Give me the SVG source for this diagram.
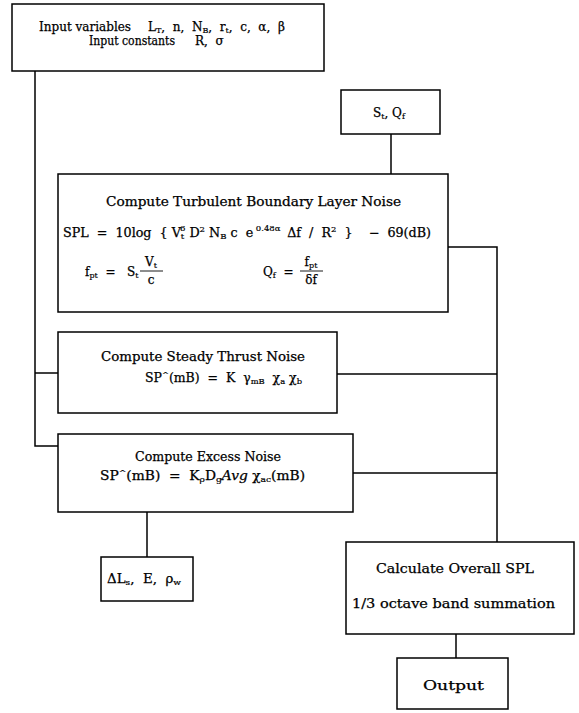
<svg xmlns="http://www.w3.org/2000/svg" width="579" height="713" viewBox="0 0 579 713" xml:space="preserve">
<style>
.box{fill:#fff;stroke:#000;stroke-width:1.5}
.ln{fill:none;stroke:#000;stroke-width:1.5}
.t{font-family:"DejaVu Serif","Liberation Serif",serif;fill:#000;font-size:12px;stroke:#000;stroke-width:0.25;white-space:pre}
.s{font-size:8px;stroke-width:0.2}
.bar{stroke:#000;stroke-width:0.9}
</style>
<rect width="579" height="713" fill="#fff"/>
<g id="connectors">
<polyline class="ln" points="35,71 35,446 58,446"/>
<line class="ln" x1="35" y1="373" x2="58" y2="373"/>
<line class="ln" x1="391" y1="134" x2="391" y2="174"/>
<polyline class="ln" points="448,247 497,247 497,542"/>
<line class="ln" x1="337" y1="374" x2="497" y2="374"/>
<line class="ln" x1="353" y1="473" x2="497" y2="473"/>
<line class="ln" x1="147" y1="512" x2="147" y2="557"/>
<line class="ln" x1="456" y1="634" x2="456" y2="658"/>
</g>
<g id="inputs">
<rect class="box" x="12" y="4" width="312" height="67"/>
<text class="t" x="39" y="31" font-size="11.5" textLength="92" lengthAdjust="spacingAndGlyphs">Input variables</text>
<text class="t" x="148" y="31">L<tspan class="s" dy="2">T</tspan><tspan dy="-2">,  n,  N</tspan><tspan class="s" dy="2">B</tspan><tspan dy="-2">,  r</tspan><tspan class="s" dy="2">t</tspan><tspan dy="-2">,  c,  α,  β</tspan></text>
<text class="t" x="89" y="45" font-size="11.5" textLength="86" lengthAdjust="spacingAndGlyphs">Input constants</text>
<text class="t" x="195" y="45">R,  σ</text>
</g>
<g id="stqf">
<rect class="box" x="341" y="90" width="99" height="44"/>
<text class="t" x="373" y="117" font-size="12.5">S<tspan class="s" dy="2">t</tspan><tspan dy="-2">, Q</tspan><tspan class="s" dy="2">f</tspan></text>
</g>
<g id="turbulent">
<rect class="box" x="58" y="174" width="390" height="138"/>
<text class="t" x="106" y="206" font-size="13" textLength="295" lengthAdjust="spacingAndGlyphs">Compute Turbulent Boundary Layer Noise</text>
<text class="t" x="63" y="237" font-size="12.5" textLength="368" lengthAdjust="spacingAndGlyphs">SPL  =  10log  { V<tspan class="s" dy="2">t</tspan><tspan class="s" dx="-4" dy="-8">6</tspan><tspan dy="6"> D</tspan><tspan class="s" dy="-5">2</tspan><tspan dy="5"> N</tspan><tspan class="s" dy="2">B</tspan><tspan dy="-2"> c  e</tspan><tspan class="s" dy="-6"> 0.48α </tspan><tspan dy="6"> Δf  /  R</tspan><tspan class="s" dy="-5">2</tspan><tspan dy="5">  }    −  69(dB)</tspan></text>
<text class="t" x="85" y="276">f<tspan class="s" dy="2">pt</tspan><tspan dy="-2">  =   S</tspan><tspan class="s" dy="2">t</tspan></text>
<text class="t" x="151" y="266" text-anchor="middle">V<tspan class="s" dy="2">t</tspan></text>
<line class="bar" x1="140" y1="271" x2="163" y2="271"/>
<text class="t" x="151" y="284" text-anchor="middle">c</text>
<text class="t" x="263" y="276">Q<tspan class="s" dy="2">f</tspan><tspan dy="-2">  =</tspan></text>
<text class="t" x="311" y="266" text-anchor="middle" font-size="11">f<tspan class="s" dy="2">pt</tspan></text>
<line class="bar" x1="300" y1="271" x2="323" y2="271"/>
<text class="t" x="311" y="284" text-anchor="middle" font-size="11">δf</text>
</g>
<g id="steady">
<rect class="box" x="58" y="332" width="279" height="81"/>
<text class="t" x="101" y="361" font-size="13" textLength="204" lengthAdjust="spacingAndGlyphs">Compute Steady Thrust Noise</text>
<text class="t" x="145" y="382" textLength="157" lengthAdjust="spacingAndGlyphs">SP<tspan class="s" dy="-5">^</tspan><tspan dy="5">(mB)  =  K  γ</tspan><tspan class="s" dy="2">mB</tspan><tspan dy="-2">  χ</tspan><tspan class="s" dy="2">a</tspan><tspan dy="-2"> χ</tspan><tspan class="s" dy="2">b</tspan></text>
</g>
<g id="excess">
<rect class="box" x="58" y="434" width="295" height="78"/>
<text class="t" x="135" y="461" font-size="13" textLength="146" lengthAdjust="spacingAndGlyphs">Compute Excess Noise</text>
<text class="t" x="100" y="480" textLength="205" lengthAdjust="spacingAndGlyphs">SP<tspan class="s" dy="-5">^</tspan><tspan dy="5">(mB)  =  K</tspan><tspan class="s" dy="2">ρ</tspan><tspan dy="-2">D</tspan><tspan class="s" dy="2">g</tspan><tspan dy="-2" font-style="italic">Avg</tspan><tspan> χ</tspan><tspan class="s" dy="2">ac</tspan><tspan dy="-2">(mB)</tspan></text>
</g>
<g id="deltaL">
<rect class="box" x="101" y="557" width="92" height="44"/>
<text class="t" x="107" y="583" textLength="74" lengthAdjust="spacingAndGlyphs">ΔL<tspan class="s" dy="2">s</tspan><tspan dy="-2">,  E,  ρ</tspan><tspan class="s" dy="2">w</tspan></text>
</g>
<g id="overall">
<rect class="box" x="346" y="542" width="228" height="92"/>
<text class="t" x="376" y="573" font-size="12.5" textLength="158" lengthAdjust="spacingAndGlyphs">Calculate Overall SPL</text>
<text class="t" x="352" y="608" font-size="12.5" textLength="203" lengthAdjust="spacingAndGlyphs">1/3 octave band summation</text>
</g>
<g id="output">
<rect class="box" x="397" y="658" width="111" height="51"/>
<text class="t" x="423" y="690" font-size="12" textLength="61" lengthAdjust="spacingAndGlyphs">Output</text>
</g>
</svg>
